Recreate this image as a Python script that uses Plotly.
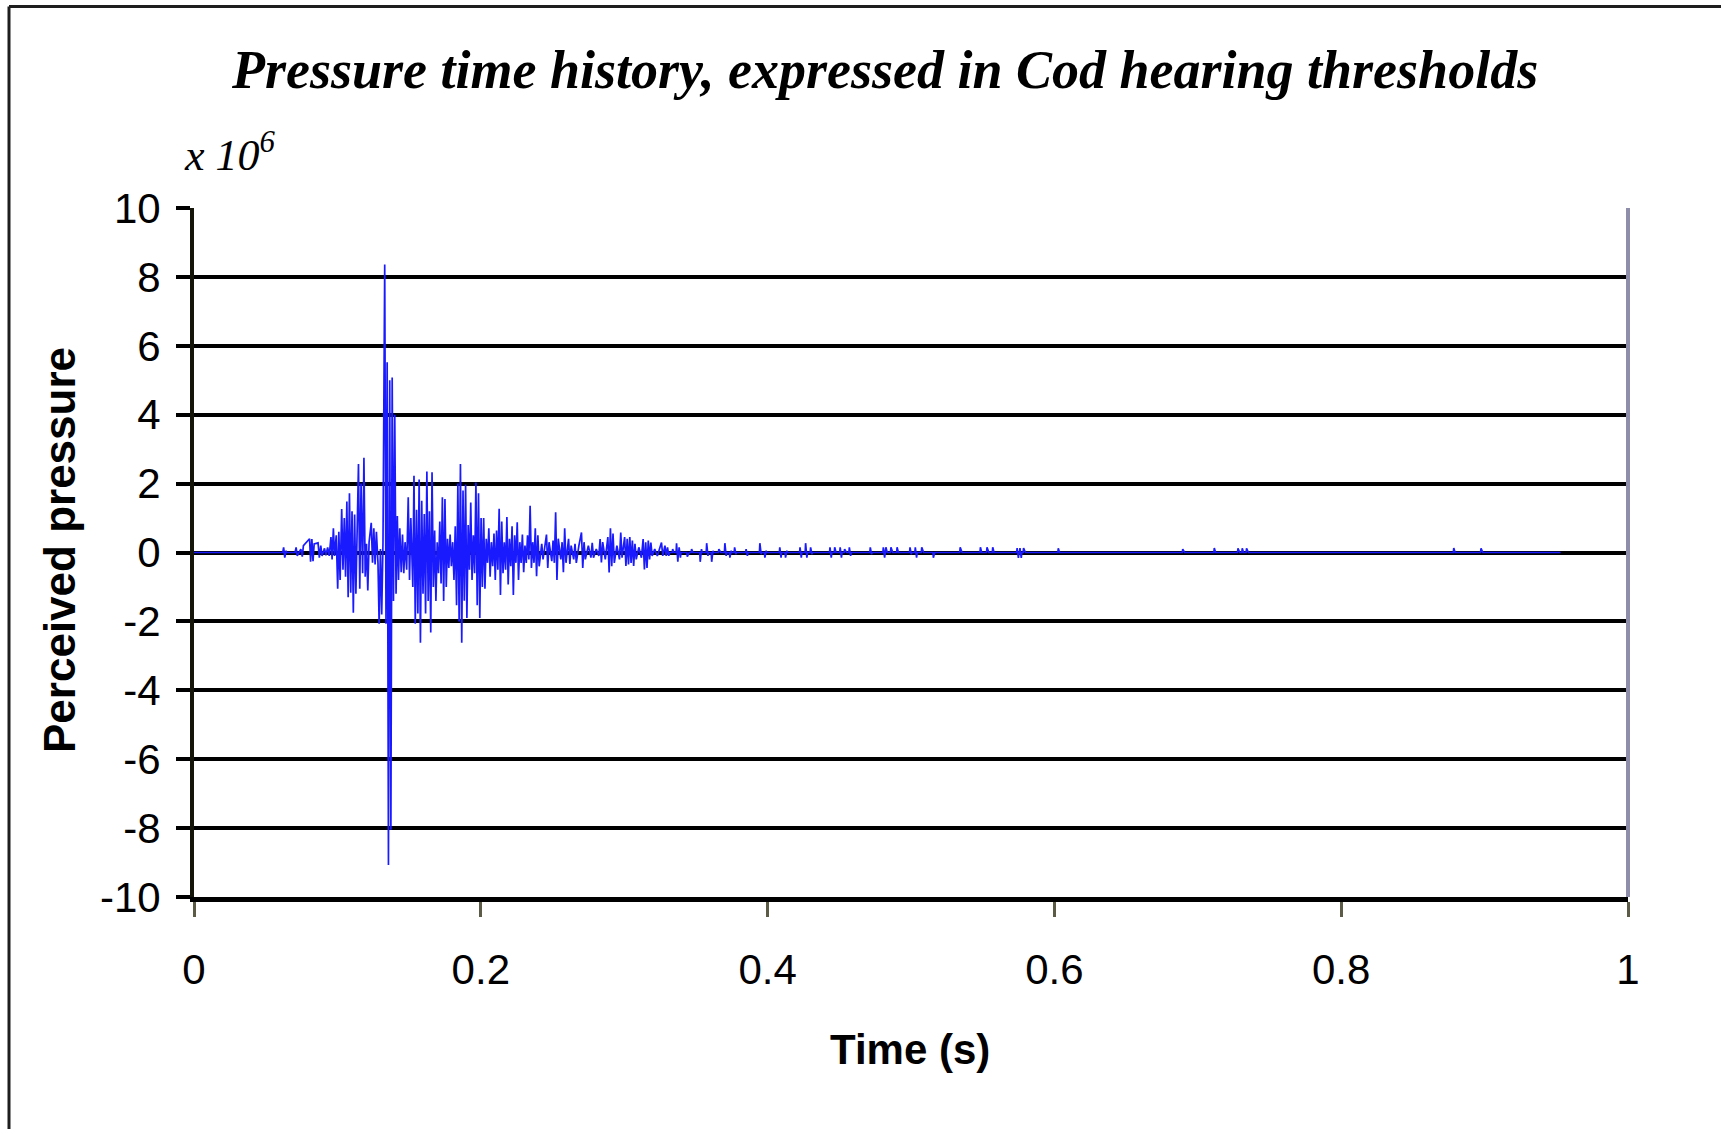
import plotly.graph_objects as go

# ---- data: (time in ms, perceived pressure in units of 1e6) ----
onset = [
    (0.0, 0), (20.0, 0), (61.9, 0), (62.5, 0.15), (63.3, -0.15), (64.2, 0.05), (64.6, 0), (70.5, 0),
    (71.2, 0.15), (72.0, -0.1), (74.5, 0.1), (75.5, -0.12), (76.3, 0.2), (80.6, 0.4),
    (81.3, -0.27), (82.2, 0.39), (83.0, -0.25), (83.8, 0.25), (86.5, 0.28), (87.4, -0.15),
    (88.4, 0.2), (89.3, -0.1), (91.0, 0.12), (92.0, -0.08), (93.2, 0.15), (94.3, -0.1),
    (95.5, 0.45), (96.3, -0.2), (97.2, 0.7), (98.0, -0.1), (99.2, 0.5), (100.2, -1.05),
    (101.0, 0.6), (101.9, -0.8), (103.0, 1.26), (103.9, -0.5), (104.8, 1.0), (105.7, -0.7),
    (106.6, 1.48), (107.5, -1.3), (108.4, 1.72), (109.3, -1.17), (110.2, 1.2), (111.1, -1.75),
    (112.0, 1.1), (112.9, -1.2), (113.8, 0.5), (114.7, 2.57), (115.6, -1.05), (116.5, 2.0),
    (117.6, -0.6), (118.5, 2.75), (119.4, -0.7), (120.3, 0.25), (121.2, -1.1), (122.1, 0.3),
    (123.6, 0.86), (124.5, -0.3), (125.4, 0.7), (126.3, -0.35), (127.2, 0.6), (128.3, -0.3),
    (129.1, -2.07), (130.0, 0.1), (130.9, -1.8), (131.8, 0.3),
]

main_burst = [
    (133.0, 8.36), (133.9, -2.07), (134.7, 5.52), (135.6, -9.07), (136.5, 5.0), (137.3, -8.05),
    (138.2, 5.08), (139.1, -1.41), (140.0, 4.0), (140.9, -1.2), (141.8, 1.06), (142.6, -0.8),
    (143.5, 0.7), (144.5, -0.57), (145.4, 0.52), (146.3, -0.6), (147.2, 0.3), (148.3, -0.5),
    (149.4, 1.6), (150.3, -0.8), (151.2, 1.0), (152.6, -1.0), (153.4, 2.23), (154.3, -2.07),
    (155.2, 1.24), (156.1, -1.77), (157.0, 2.12), (157.9, -2.62), (158.8, 1.5), (159.7, -1.2),
    (160.6, 1.12), (161.5, -1.77), (162.4, 2.35), (163.3, -1.41), (164.2, 1.2), (165.1, -2.32),
    (166.0, 2.33), (166.9, -1.0), (167.8, 0.64), (168.7, -1.41), (169.6, 0.3), (170.5, -0.6),
    (171.4, 0.9), (172.3, -0.9), (173.2, 1.6), (174.1, -1.41), (175.0, 1.55), (175.9, -1.0),
    (176.8, 0.4), (177.7, -0.45), (178.6, 0.52), (179.5, -0.4), (180.4, 0.3), (181.3, -0.8),
    (182.2, 0.76), (183.1, -1.53), (184.0, 2.0), (184.9, -2.0), (185.8, 2.57), (186.7, -2.62),
    (187.6, 1.8), (188.5, -1.4), (189.4, 1.97), (190.3, -1.9), (191.2, 0.8), (192.1, -0.5),
    (193.0, 1.45), (193.9, -0.8), (194.8, 0.5), (195.7, -0.6), (196.6, 2.03), (197.5, -1.53),
    (198.4, 1.72), (199.3, -1.9), (200.2, 1.0), (201.1, -1.0), (202.0, 1.0), (202.9, -1.05),
    (203.8, 0.4), (204.7, -0.3), (205.6, 0.7), (206.5, -0.7), (207.4, 0.3), (208.3, -0.4),
    (209.2, 0.55), (210.1, -0.8), (211.0, 0.64), (211.9, -0.5), (212.8, 1.27), (213.7, -1.23),
    (214.6, 0.9), (215.5, -0.6), (216.4, 0.3), (217.3, -0.5), (218.2, 1.03), (219.1, -0.93),
    (220.0, 0.4), (220.9, -0.4), (221.8, 0.76), (222.7, -1.23), (223.6, 0.5), (224.5, -0.3),
    (225.4, 0.88), (226.3, -0.8), (227.2, 0.3), (228.1, -0.3), (229.0, 0.52), (229.9, -0.57),
    (230.8, 0.2), (231.7, -0.3), (232.6, 0.5), (233.5, -0.2), (234.4, 1.36), (235.3, -0.45),
    (236.2, 0.3), (237.1, -0.3), (238.0, 0.7), (238.9, -0.69), (239.8, 0.5), (240.7, -0.4),
]

coda = [
    (242.5, 0.25), (243.4, -0.2), (245.8, 0.52), (246.7, -0.45), (247.6, 0.3), (249.5, -0.25),
    (250.4, 0.35), (251.3, -0.3), (252.2, 1.17), (253.1, -0.8), (254.0, 0.4), (255.8, -0.2),
    (256.7, 0.3), (257.6, -0.57), (258.5, 0.7), (259.4, -0.3), (261.2, 0.4), (262.1, -0.33),
    (263.0, 0.2), (264.8, -0.2), (265.7, 0.25), (266.6, -0.3), (268.4, 0.2), (270.2, 0.58),
    (271.1, -0.45), (272.0, 0.3), (272.9, -0.2), (275.0, 0.2), (276.8, -0.15), (277.7, 0.28),
    (278.6, -0.15), (280.5, 0.1), (282.3, -0.1), (283.2, 0.39), (284.1, -0.29), (285.0, 0.3),
    (286.8, -0.2), (288.6, 0.45), (289.5, -0.58), (290.4, 0.7), (291.3, -0.4), (292.2, 0.55),
    (293.1, -0.3), (294.9, 0.2), (296.7, -0.2), (297.6, 0.58), (298.5, -0.15), (300.3, 0.45),
    (301.2, -0.39), (302.1, 0.4), (303.0, -0.35), (303.9, 0.45), (304.8, -0.3), (305.7, 0.35),
    (306.6, -0.39), (307.5, 0.25), (308.4, -0.2), (310.2, 0.15), (312.0, -0.15), (313.2, 0.39),
    (314.1, -0.49), (315.0, 0.3), (315.9, -0.45), (316.8, 0.35), (317.7, -0.2), (318.6, 0.29),
    (319.5, -0.1), (321.3, 0.1), (323.1, -0.1), (326.0, 0.29), (326.9, -0.1), (328.4, 0.2),
    (329.3, -0.1), (330.2, 0.15), (331.1, -0.1), (331.6, 0),
]

# isolated late spikes: (time in ms, first excursion, second excursion)
tail_spikes = [
    (333.8, 0.1, 0), (336.5, 0.27, -0.27), (338.3, 0.15, -0.15), (344.0, -0.12, 0),
    (347.0, 0.1, 0), (353.0, -0.27, 0.1), (357.5, 0.27, -0.1), (361.0, -0.27, 0.05),
    (366.0, 0.1, 0), (370.2, 0.27, -0.1), (373.7, -0.15, 0.05), (377.0, 0.15, -0.05),
    (385.0, 0.1, -0.1), (394.6, 0.27, -0.05), (398.1, -0.15, 0.05),
    (408.5, 0.15, -0.15), (412.5, -0.15, 0.05), (422.6, 0.15, -0.15), (426.5, 0.27, -0.15),
    (430.0, 0.15, -0.05), (443.5, 0.15, -0.15), (446.8, 0.15, 0), (450.6, 0.15, -0.15),
    (453.7, 0.1, 0), (457.0, 0.15, -0.1), (471.6, 0.15, -0.05), (480.7, 0.15, -0.15),
    (482.5, 0.15, 0), (486.0, 0.15, 0), (490.3, 0.15, 0), (499.3, 0.15, -0.05),
    (503.0, 0.15, -0.15), (507.5, 0.15, 0), (515.6, -0.15, 0), (534.3, 0.15, 0),
    (548.4, 0.15, 0), (553.0, 0.15, 0), (557.0, 0.15, 0), (574.0, 0.13, -0.16),
    (576.0, 0.13, -0.16), (578.5, 0.13, 0), (602.7, 0.12, 0), (689.5, 0.1, 0),
    (711.5, 0.13, 0), (728.0, 0.12, 0), (731.0, 0.12, 0), (734.0, 0.12, 0),
    (878.5, 0.13, 0), (897.5, 0.12, 0),
]
signal_end_ms = 953.0

x_tick_values = [0, 0.2, 0.4, 0.6, 0.8, 1]
x_tick_labels = ["0", "0.2", "0.4", "0.6", "0.8", "1"]
y_tick_values = [-10, -8, -6, -4, -2, 0, 2, 4, 6, 8, 10]
y_tick_labels = ["-10", "-8", "-6", "-4", "-2", "0", "2", "4", "6", "8", "10"]

title_text = "Pressure time history, expressed in Cod hearing thresholds"
x_title = "Time (s)"
y_title = "Perceived pressure"

# ---- build ----
points = onset + main_burst + coda
for t, a, b in tail_spikes:
    points += [(t - 0.3, 0), (t, a), (t + 0.9, b), (t + 1.3, 0)]
points.append((signal_end_ms, 0))

time_s = [t / 1000.0 for t, _ in points]
pressure = [p for _, p in points]

W, H = 1721, 1129
L, R, T, B = 194, 93, 208, 232
PW, PH = W - L - R, H - T - B


def px_x(px):
    return (px - L) / PW


def px_y(py):
    return (H - B - py) / PH


fig = go.Figure()
fig.add_trace(go.Scatter(
    x=time_s, y=pressure, mode="lines",
    line=dict(color="#1a1aff", width=1.7),
    hoverinfo="skip", showlegend=False,
))

sans = "Liberation Sans, Arial, sans-serif"
serif = "Liberation Serif, Times New Roman, serif"

fig.update_layout(
    width=W, height=H, autosize=False,
    margin=dict(l=L, r=R, t=T, b=B),
    paper_bgcolor="white", plot_bgcolor="white",
    showlegend=False,
    xaxis=dict(
        range=[0, 1], tickvals=x_tick_values, ticktext=x_tick_labels,
        showgrid=False, zeroline=False,
        showline=True, linecolor="black", linewidth=5,
        ticks="outside", ticklen=15, tickwidth=3, tickcolor="#5c5c46",
        tickfont=dict(family=sans, size=42, color="black"),
        ticklabelstandoff=17,
    ),
    yaxis=dict(
        range=[-10, 10], tickvals=y_tick_values, ticktext=y_tick_labels,
        showgrid=True, gridcolor="black", gridwidth=4,
        zeroline=True, zerolinecolor="black", zerolinewidth=4,
        showline=True, linecolor="#15150a", linewidth=4,
        ticks="outside", ticklen=14, tickwidth=4, tickcolor="black",
        tickfont=dict(family=sans, size=42, color="black"),
        ticklabelstandoff=7,
    ),
)

# outer frame (left and top edges)
fig.add_shape(type="line", xref="paper", yref="paper",
              x0=px_x(9), x1=px_x(W + 5), y0=px_y(6.5), y1=px_y(6.5),
              line=dict(color="#1e1e1e", width=3))
fig.add_shape(type="line", xref="paper", yref="paper",
              x0=px_x(9), x1=px_x(9), y0=px_y(6.5), y1=px_y(H + 5),
              line=dict(color="#1e1e1e", width=3))
# right border of plot area
fig.add_shape(type="line", xref="paper", yref="paper",
              x0=1, x1=1, y0=0, y1=1,
              line=dict(color="#8e8eaa", width=4))

fig.add_annotation(text="<b><i>" + title_text + "</i></b>",
                   xref="paper", yref="paper", x=px_x(884), y=px_y(70),
                   xanchor="center", yanchor="middle", showarrow=False,
                   font=dict(family=serif, size=54, color="black"))
fig.add_annotation(text="<i>x 10<sup>6</sup></i>",
                   xref="paper", yref="paper", x=px_x(182), y=px_y(153),
                   xanchor="left", yanchor="middle", showarrow=False,
                   font=dict(family=serif, size=44, color="black"))
fig.add_annotation(text="<b>" + y_title + "</b>",
                   xref="paper", yref="paper", x=px_x(59), y=px_y(550),
                   xanchor="center", yanchor="middle", textangle=-90, showarrow=False,
                   font=dict(family=sans, size=44, color="black"))
fig.add_annotation(text="<b>" + x_title + "</b>",
                   xref="paper", yref="paper", x=px_x(910), y=px_y(1049),
                   xanchor="center", yanchor="middle", showarrow=False,
                   font=dict(family=sans, size=42, color="black"))

fig.write_html("out.html")
